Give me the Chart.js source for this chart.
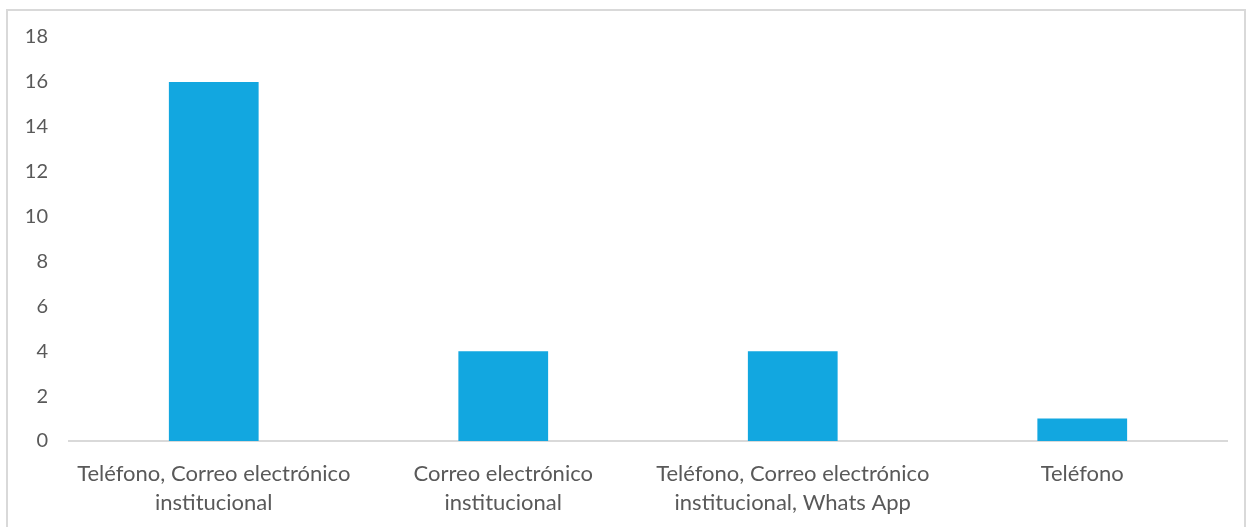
<!DOCTYPE html>
<html lang="es">
  <head>
    <meta charset="UTF-8" />
    <title>Medios de contacto</title>
    <script src="https://cdn.jsdelivr.net/npm/chart.js"></script>
    <style>
      html,
      body {
        margin: 0;
        padding: 0;
        background-color: #ffffff;
        overflow: hidden;
      }
      #frame {
        position: absolute;
        left: 6px;
        top: 9px;
        width: 1240px;
        height: 540px;
        border: 2px solid #d9d9d9;
        box-sizing: border-box;
      }
      #wrap {
        position: absolute;
        left: 0;
        top: 0;
        width: 1246px;
        height: 527px;
      }
    </style>
  </head>
  <body>
    <div id="frame"></div>
    <div id="wrap"><canvas id="contactChart"></canvas></div>
    <script>
      // Categories (multi-line labels) and the count for each one
      const categories = [
        ["Teléfono, Correo electrónico", "institucional"],
        ["Correo electrónico", "institucional"],
        ["Teléfono, Correo electrónico", "institucional, Whats App"],
        ["Teléfono"],
      ];
      const counts = [16, 4, 4, 1];
      const yTicks = [0, 2, 4, 6, 8, 10, 12, 14, 16, 18];

      const ctx = document.getElementById("contactChart").getContext("2d");

      new Chart(ctx, {
        type: "bar",
        data: {
          labels: categories,
          datasets: [
            {
              label: "Total",
              data: counts,
              backgroundColor: "#12a7e0",
              borderWidth: 0,
              categoryPercentage: 1,
              barPercentage: 0.31,
            },
          ],
        },
        options: {
          responsive: true,
          maintainAspectRatio: false,
          animation: false,
          layout: {
            padding: { top: 37, right: 19, bottom: 0, left: 0 },
          },
          plugins: {
            legend: { display: false },
            tooltip: { enabled: false },
          },
          scales: {
            x: {
              grid: { display: false, drawTicks: false },
              border: { display: true, color: "#d9d9d9", width: 2 },
              ticks: {
                color: "#595959",
                padding: 18,
                maxRotation: 0,
                font: { family: "Lato", size: 22, lineHeight: 1.32 },
              },
              afterFit: function (scale) {
                scale.height = 86;
              },
            },
            y: {
              min: 0,
              max: 18,
              afterBuildTicks: function (scale) {
                scale.ticks = yTicks.map((v) => ({ value: v }));
              },
              grid: { display: false, drawTicks: false },
              border: { display: false },
              ticks: {
                color: "#595959",
                padding: 21,
                font: { family: "Lato", size: 20 },
              },
              afterFit: function (scale) {
                scale.width = 69;
              },
            },
          },
        },
      });
    </script>
  </body>
</html>
